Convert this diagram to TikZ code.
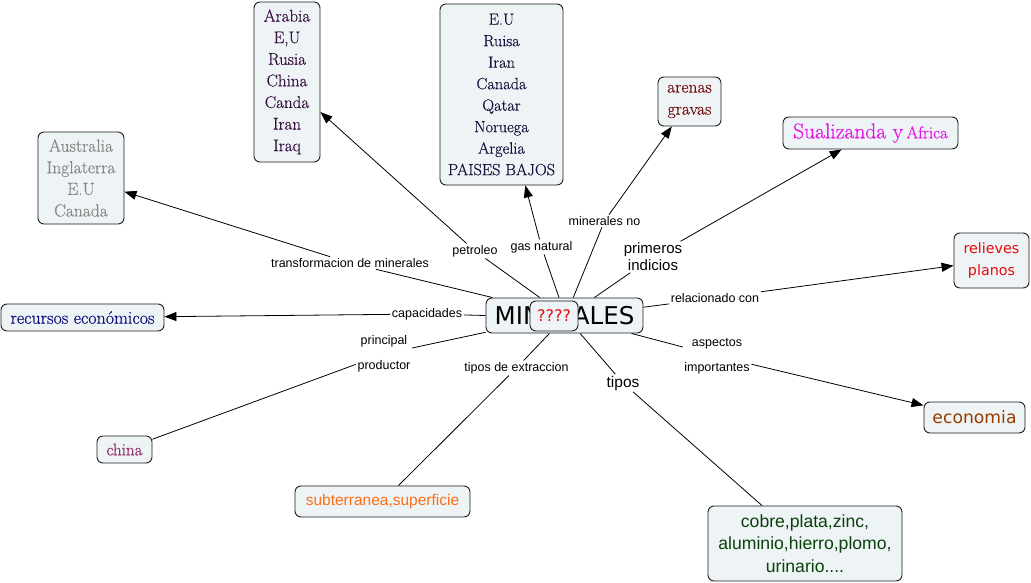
\documentclass[tikz,border=0pt]{standalone}
\usepackage{fontspec}
\usetikzlibrary{arrows.meta}
\newfontfamily\lsans{Liberation Sans}
\newfontfamily\dsans{DejaVu Sans}
\newfontfamily\pal{Latin Modern Roman}[FakeBold=0.5]
\definecolor{cfill}{RGB}{238,243,245}
\definecolor{cborder}{RGB}{30,30,30}
\definecolor{cplum}{RGB}{55,15,65}
\definecolor{cnavy}{RGB}{20,20,60}
\definecolor{cgray}{RGB}{135,135,135}
\definecolor{cblue}{RGB}{15,15,125}
\definecolor{cmaroon}{RGB}{115,15,15}
\definecolor{cmagenta}{RGB}{230,20,230}
\definecolor{cred}{RGB}{230,10,10}
\definecolor{cbrown}{RGB}{150,60,0}
\definecolor{cgreen}{RGB}{10,65,10}
\definecolor{corange}{RGB}{255,110,20}
\definecolor{cchina}{RGB}{145,45,105}
\tikzset{
  concept/.style={draw=cborder, line width=0.9pt, rounded corners=6pt, fill=cfill,
    inner sep=0pt, align=center},
  lbl/.style={inner sep=1.5pt, align=center, font=\lsans\fontsize{12.5}{25}\selectfont},
  conn/.style={line width=0.8pt, draw=black},
  arr/.style={conn, -{Triangle[length=12pt,width=9pt]}},
}
\begin{document}
\begin{tikzpicture}[x=1pt,y=1pt]
\useasboundingbox[fill=white] (0,0) rectangle (1031,-583);

% concepts
\node[concept, minimum width=157pt, minimum height=35pt,
  font=\dsans\fontsize{24.5}{28}\selectfont] (mineral) at (564.5,-315.5) {MINERALES};
\node[concept, minimum width=66pt, minimum height=160pt, text=cplum,
  font=\pal\fontsize{17}{21.6}\selectfont] (arabia) at (287,-82)
  {Arabia\\E,U\\Rusia\\China\\Canda\\Iran\\Iraq};
\node[concept, minimum width=123pt, minimum height=181pt, text=cnavy,
  font=\pal\fontsize{16.3}{21.5}\selectfont] (eu) at (501.5,-94.5)
  {E.U\\Ruisa\\Iran\\Canada\\Qatar\\Noruega\\Argelia\\PAISES BAJOS};
\node[concept, minimum width=86pt, minimum height=92pt, text=cgray,
  font=\pal\fontsize{17.5}{21.6}\selectfont] (aus) at (81,-178)
  {Australia\\Inglaterra\\E.U\\Canada};
\node[concept, minimum width=163pt, minimum height=27pt, text=cblue,
  font=\pal\fontsize{18}{20}\selectfont] (recursos) at (82.5,-317.5) {recursos económicos};
\node[concept, minimum width=63pt, minimum height=49pt, text=cmaroon,
  font=\pal\fontsize{17.5}{22}\selectfont] (arenas) at (689.5,-101.5) {arenas\\gravas};
\node[concept, minimum width=175pt, minimum height=32pt, text=cmagenta] (sual) at (870.5,-133)
  {{\pal\fontsize{21.5}{22}\selectfont Sualizanda y} {\pal\fontsize{17}{22}\selectfont Africa}};
\node[concept, minimum width=75pt, minimum height=55pt, text=cred,
  font=\dsans\fontsize{14.3}{22}\selectfont] (relieves) at (991.5,-260.5) {relieves\\planos};
\node[concept, minimum width=101pt, minimum height=31pt, text=cbrown,
  font=\dsans\fontsize{17.2}{20}\selectfont] (economia) at (974.5,-417.5) {economia};
\node[concept, minimum width=194pt, minimum height=75pt, text=cgreen,
  font=\lsans\fontsize{17.6}{22.5}\selectfont] (cobre) at (805,-543.5)
  {cobre,plata,zinc,\\aluminio,hierro,plomo,\\urinario....};
\node[concept, minimum width=175pt, minimum height=31pt, text=corange,
  font=\lsans\fontsize{15.5}{18}\selectfont] (subt) at (382.5,-501.5) {subterranea,superficie};
\node[concept, minimum width=55pt, minimum height=27pt, text=cchina,
  font=\pal\fontsize{17}{18}\selectfont] (china) at (124.5,-449.5) {china};

% linking phrases
\node[lbl] (ltrans) at (350,-263) {transformacion de minerales};
\node[lbl] (lpet) at (475,-251) {petroleo};
\node[lbl] (lgas) at (541.5,-247) {gas natural};
\node[lbl] (lmin) at (604.5,-221) {minerales no};
\node[lbl, font=\lsans\fontsize{15}{17}\selectfont] (lprim) at (653,-257) {primeros\\indicios};
\node[lbl] (lrel) at (715,-298) {relacionado con};
\node[lbl] (lcap) at (427,-314) {capacidades};
\node[lbl] (lprin) at (384,-354) {principal\\productor};
\node[lbl] (ltipext) at (516.5,-368) {tipos de extraccion};
\node[lbl, font=\lsans\fontsize{15.5}{18}\selectfont] (ltipos) at (623,-383) {tipos};
\node[lbl] (lasp) at (717,-356) {aspectos\\importantes};

% connectors
\draw[conn] (mineral.166) -- (ltrans);  \draw[arr] (ltrans) -- (aus);
\draw[conn] (mineral.144.5) -- (lpet);  \draw[arr] (lpet) -- (arabia);
\draw[conn] (mineral.107) -- (lgas);    \draw[arr] (lgas) -- (eu);
\draw[conn] (mineral.64) -- (lmin);     \draw[arr] (lmin) -- (arenas);
\draw[conn] (mineral.31.5) -- (lprim);  \draw[arr] (lprim) -- (sual);
\draw[conn] (mineral.6) -- (lrel);      \draw[arr] (lrel) -- (relieves);
\draw[conn] (mineral.180) -- (lcap);    \draw[arr] (lcap) -- (recursos);
\draw[conn] (mineral.192) -- (lprin);   \draw[conn] (lprin) -- (china);
\draw[conn] (mineral.230) -- (ltipext); \draw[conn] (ltipext) -- (subt);
\draw[conn] (mineral.311.5) -- (ltipos); \draw[conn] (ltipos) -- (cobre);
\draw[conn] (mineral.345.5) -- (lasp);  \draw[arr] (lasp) -- (economia);

% overlapping concept
\node[concept, minimum width=48pt, minimum height=30pt, text=cred,
  font=\dsans\fontsize{16}{18}\selectfont] (q) at (554,-316) {????};
\end{tikzpicture}
\end{document}
